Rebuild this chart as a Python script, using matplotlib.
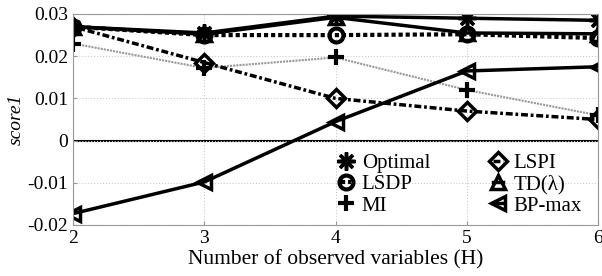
import matplotlib
matplotlib.use('Agg')
import numpy as np
import matplotlib.pyplot as plt

plt.rcParams['font.family'] = ['Liberation Serif', 'DejaVu Serif']

H = [2, 3, 4, 5, 6]
optimal = [0.0270, 0.0255, 0.0295, 0.0290, 0.0285]
lsdp = [0.0270, 0.0250, 0.0250, 0.0252, 0.0243]
mi = [0.0230, 0.0172, 0.0197, 0.0120, 0.0060]
lspi = [0.0270, 0.0185, 0.0100, 0.0070, 0.0050]
td = [0.0270, 0.0252, 0.0292, 0.0255, 0.0253]
bpmax = [-0.0173, -0.0098, 0.0045, 0.0165, 0.0175]

fig = plt.figure(figsize=(6.02, 2.76), dpi=100)
ax = fig.add_axes([73/602, 1 - 225/276, (598-73)/602, (225-14)/276])

ax.axhline(0, color='k', lw=1.5, zorder=1)
ax.plot(H, optimal, 'k-', lw=2.5, marker=(8, 2, 0), ms=13, mew=2.5, label='Optimal')
ax.plot(H, lsdp, color='k', ls=(0, (1, 0.7)), lw=3, marker='o', ms=10, mfc='none', mew=3, label='LSDP')
ax.plot(H, mi, ls=(0, (1, 0.5)), color='0.6', lw=1.5, marker='+', ms=12, mec='k', mew=3, label='MI')
ax.plot(H, lspi, color='k', ls=(0, (2, 0.8, 0.8, 0.8)), lw=2.5, marker='D', ms=9, mfc='none', mew=2.5, label='LSPI')
ax.plot(H, td, 'k-', lw=2.5, marker='^', ms=10, mfc='none', mew=2.5, label='TD(λ)')
ax.plot(H, bpmax, 'k-', lw=2.5, marker='<', ms=10, mfc='none', mew=2.5, label='BP-max')

ax.set_xlim(2, 6)
ax.set_ylim(-0.02, 0.03)
ax.set_xticks([2, 3, 4, 5, 6])
ax.set_yticks([-0.02, -0.01, 0, 0.01, 0.02, 0.03])
ax.set_yticklabels(['-0.02', '-0.01', '0', '0.01', '0.02', '0.03'])
ax.grid(True, color='0.8', ls=':', lw=0.8)
for s in ax.spines.values():
    s.set_color('0.6')
ax.tick_params(direction='in', length=3, colors='0.6', labelcolor='k', labelsize=14)
ax.set_xlabel('Number of observed variables (H)', fontsize=15.5, labelpad=2)
ax.set_ylabel('score1', fontsize=14, style='italic', labelpad=2)

ax.legend(ncol=2, loc='lower right', bbox_to_anchor=(0.993, -0.015), frameon=False, fontsize=15,
          handlelength=0.5, handletextpad=0.5, columnspacing=3.0, labelspacing=0.08,
          borderpad=0.1)

fig.savefig('out.png', dpi=100)
